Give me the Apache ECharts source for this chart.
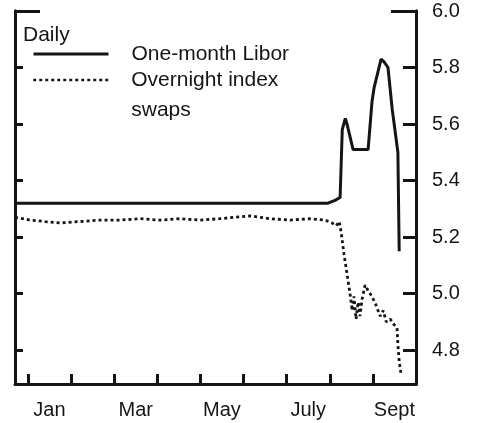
<!DOCTYPE html>
<html>
<head>
<meta charset="utf-8">
<script src="https://cdn.jsdelivr.net/npm/echarts@6/dist/echarts.min.js"></script>
<style>
  html, body { margin: 0; padding: 0; background: #fff; }
  #chart { width: 479px; height: 423px; }
</style>
</head>
<body>
<div id="chart"></div>
<script>
// x values are in months from 1 January (0 = Jan 1, 8 = Sept 1)
var monthTicks = [0, 1, 2, 3, 4, 5, 6, 7, 8];
var monthLabelPos = [0.5, 2.5, 4.5, 6.5, 8.5];
var monthLabels = ['Jan', 'Mar', 'May', 'July', 'Sept'];
var rateTicks = [4.8, 5.0, 5.2, 5.4, 5.6, 5.8, 6.0];

// One-month Libor, daily
var liborX = [-0.30, 6.96, 7.12, 7.24, 7.29, 7.36, 7.40, 7.54, 7.89, 7.98, 8.03, 8.19, 8.26, 8.35, 8.45, 8.58, 8.61];
var liborY = [5.32, 5.32, 5.33, 5.34, 5.58, 5.62, 5.60, 5.51, 5.51, 5.68, 5.73, 5.83, 5.82, 5.80, 5.65, 5.50, 5.15];

// Overnight index swaps, daily
var oisX = [-0.30, 0.05, 0.39, 0.74, 1.21, 1.67, 2.13, 2.60, 3.06, 3.53, 3.99, 4.45, 5.15, 5.61, 6.08, 6.54, 6.89,
            7.05, 7.15, 7.22, 7.26, 7.33, 7.40, 7.47, 7.52, 7.56, 7.61, 7.66, 7.70, 7.75, 7.82, 7.89, 7.98,
            8.07, 8.17, 8.24, 8.31, 8.40, 8.49, 8.56, 8.58, 8.61, 8.65];
var oisY = [5.27, 5.26, 5.255, 5.25, 5.255, 5.26, 5.26, 5.265, 5.26, 5.265, 5.26, 5.265, 5.275, 5.265, 5.26, 5.265, 5.26,
            5.25, 5.24, 5.255, 5.22, 5.14, 5.07, 5.00, 4.94, 4.99, 4.91, 4.97, 4.92, 4.98, 5.03, 5.01, 4.99,
            4.96, 4.92, 4.94, 4.90, 4.91, 4.89, 4.88, 4.82, 4.76, 4.72];

var ink = '#151515';
var font = 'Liberation Sans, Arial, Helvetica, sans-serif';

function pairs(xs, ys){
	var d = [];
	for(var i = 0; i < xs.length; i++){
		d.push([xs[i], ys[i]]);
	}
	return d;
}

function rateAxis(pos, tickVals, tickLen, showLabels){
	return {
		type: 'value',
		position: pos,
		min: 4.68,
		max: 6.0,
		axisLine: {show: true, onZero: false, lineStyle: {color: ink, width: 3}},
		axisTick: {show: true, inside: true, length: tickLen, customValues: tickVals, lineStyle: {color: ink, width: 3}},
		axisLabel: {
			show: showLabels,
			customValues: rateTicks,
			margin: 16,
			color: ink,
			fontSize: 20,
			fontFamily: font,
			formatter: function(v){ return v.toFixed(1); }
		},
		splitLine: {show: false}
	};
}

var chart = echarts.init(document.getElementById('chart'));

var option = {
	backgroundColor: '#fff',
	animation: false,
	title: {
		text: 'Daily',
		left: 23,
		top: 25,
		padding: 0,
		textStyle: {color: ink, fontSize: 21, fontWeight: 'normal', fontFamily: font}
	},
	legend: [
		{
			data: ['One-month Libor'],
			left: 32,
			top: 39,
			padding: 0,
			itemWidth: 75,
			itemHeight: 14,
			itemStyle: {opacity: 0},
			lineStyle: {width: 3},
			textStyle: {color: ink, fontSize: 21, fontFamily: font, lineHeight: 26, padding: [4, 0, 0, 18]}
		},
		{
			data: ['Overnight index swaps'],
			left: 32,
			top: 35,
			padding: 0,
			itemWidth: 75,
			itemHeight: 14,
			itemStyle: {opacity: 0},
			lineStyle: {width: 2.5},
			formatter: function(){ return ' \nOvernight index\nswaps'; },
			textStyle: {color: ink, fontSize: 21, fontFamily: font, lineHeight: 30, padding: [0, 0, 0, 18]}
		}
	],
	grid: {left: 15, right: 63, top: 11, bottom: 39},
	xAxis: {
		type: 'value',
		min: -0.3,
		max: 9.0,
		axisLine: {show: true, onZero: false, lineStyle: {color: ink, width: 3}},
		axisTick: {show: true, inside: true, length: 10, customValues: monthTicks, lineStyle: {color: ink, width: 3}},
		axisLabel: {
			customValues: monthLabelPos,
			margin: 16,
			color: ink,
			fontSize: 20,
			fontFamily: font,
			formatter: function(v){ return monthLabels[monthLabelPos.indexOf(v)] || ''; }
		},
		splitLine: {show: false}
	},
	yAxis: [
		rateAxis('right', rateTicks, 13, true),
		rateAxis('left', rateTicks, 8, false),
		rateAxis('right', [6.0], 25, false),
		rateAxis('left', [6.0], 25, false)
	],
	series: [
		{
			name: 'One-month Libor',
			type: 'line',
			yAxisIndex: 0,
			symbol: 'none',
			lineStyle: {color: ink, width: 3},
			itemStyle: {color: ink},
			data: pairs(liborX, liborY)
		},
		{
			name: 'Overnight index swaps',
			type: 'line',
			yAxisIndex: 0,
			symbol: 'none',
			lineStyle: {color: ink, width: 2.8, type: [3, 3]},
			itemStyle: {color: ink},
			data: pairs(oisX, oisY)
		}
	]
};

chart.setOption(option);
</script>
</body>
</html>
